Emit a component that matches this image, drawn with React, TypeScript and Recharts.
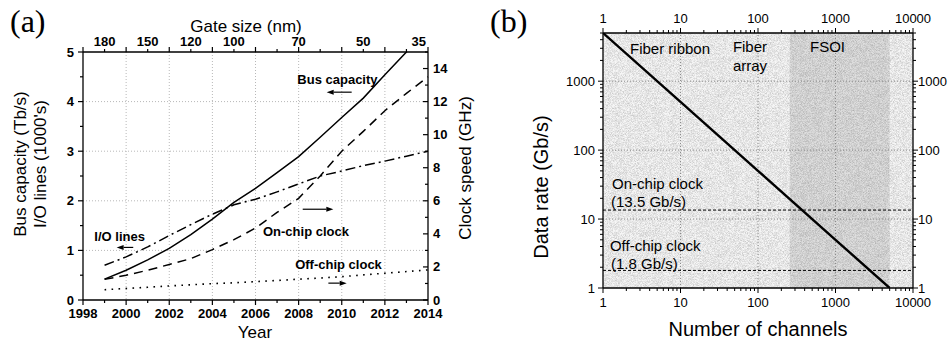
import React from "react";
import {
  ComposedChart,
  Line,
  XAxis,
  YAxis,
  CartesianGrid,
  ReferenceLine,
  ReferenceArea,
  ReferenceDot,
} from "recharts";

const SANS = '"Liberation Sans", Arial, Helvetica, sans-serif';
const SERIF = '"Liberation Serif", "Times New Roman", serif';

// ---- (a) roadmap trends ----
const YEARS = [1999, 2000, 2001, 2002, 2003, 2004, 2005, 2006, 2007, 2008, 2009, 2010, 2011, 2012, 2013, 2014];
const BUS_CAPACITY = [0.42, 0.6, 0.81, 1.04, 1.32, 1.63, 1.97, 2.25, 2.57, 2.89, 3.28, 3.68, 4.07, 4.54, 5.0, 5.45];
const IO_LINES = [0.7, 0.87, 1.07, 1.3, 1.52, 1.73, 1.92, 2.03, 2.18, 2.34, 2.5, 2.6, 2.71, 2.8, 2.9, 3.0];
const ON_CHIP_GHZ = [1.25, 1.5, 1.8, 2.15, 2.5, 3.05, 3.65, 4.35, 5.3, 6.15, 7.5, 9.0, 10.2, 11.45, 12.5, 13.5];
const OFF_CHIP_GHZ = [0.62, 0.7, 0.77, 0.85, 0.92, 0.99, 1.04, 1.11, 1.18, 1.26, 1.33, 1.41, 1.52, 1.62, 1.72, 1.82];

const GATE_YEARS = [1999, 2001, 2003, 2005, 2008, 2011, 2014];
const GATE_NM = [180, 150, 120, 100, 70, 50, 35];

const YEAR_TICKS = [1998, 1999, 2000, 2001, 2002, 2003, 2004, 2005, 2006, 2007, 2008, 2009, 2010, 2011, 2012, 2013, 2014];
const BUS_TICKS = [0, 0.5, 1, 1.5, 2, 2.5, 3, 3.5, 4, 4.5, 5];
const CLOCK_TICKS = [0, 1, 2, 3, 4, 5, 6, 7, 8, 9, 10, 11, 12, 13, 14, 15];

// ---- (b) data rate per channel ----
const CHANNELS = [1, 10, 100, 1000, 5000];
const DATA_RATE = [5000, 500, 50, 5, 1];
const ON_CHIP_RATE = 13.5;
const OFF_CHIP_RATE = 1.8;
const FSOI_RANGE = [257, 5000];
const X_DECADES = [1, 10, 100, 1000, 10000];
const Y_DECADES = [1, 10, 100, 1000];

const trendRows = YEARS.map((year, i) => ({
  year,
  bus: BUS_CAPACITY[i],
  io: IO_LINES[i],
  onChip: ON_CHIP_GHZ[i],
  offChip: OFF_CHIP_GHZ[i],
}));

const rateRows = CHANNELS.map((n, i) => ({ n, rate: DATA_RATE[i] }));

function logTicks(max: number) {
  const out: number[] = [];
  for (let d = 1; d <= max; d *= 10) {
    for (let m = 1; m <= 9; m++) if (m * d <= max) out.push(m * d);
  }
  return out;
}
const X_LOG_TICKS = logTicks(10000);
const Y_LOG_TICKS = logTicks(5000);

type TickProps = { x?: number; y?: number; payload?: { value: number } };

const tickText = (size: number, weight: number) => ({
  fontFamily: SANS,
  fontSize: size,
  fontWeight: weight,
  fill: "#000",
});

// ticks for chart (a)
const YearTick = ({ x = 0, y = 0, payload }: TickProps) => {
  const v = payload?.value ?? 0;
  const major = v % 2 === 0;
  return (
    <g>
      <line x1={x} x2={x} y1={y} y2={y + (major ? 5 : 3)} stroke="#000" strokeWidth={1.2} />
      {major && (
        <text x={x} y={y + 18} textAnchor="middle" {...tickText(13, 700)}>
          {v}
        </text>
      )}
    </g>
  );
};

const GateTick = ({ x = 0, y = 0, payload }: TickProps) => {
  const v = payload?.value ?? 0;
  const major = v % 2 === 0;
  const idx = GATE_YEARS.indexOf(v);
  const last = idx === GATE_YEARS.length - 1;
  return (
    <g>
      <line x1={x} x2={x} y1={y} y2={y - (major ? 5 : 3)} stroke="#000" strokeWidth={1.2} />
      {idx >= 0 && (
        <text x={last ? x - 2 : x} y={y - 6} textAnchor={last ? "end" : "middle"} {...tickText(13, 700)}>
          {GATE_NM[idx]}
        </text>
      )}
    </g>
  );
};

const BusTick = ({ x = 0, y = 0, payload }: TickProps) => {
  const v = payload?.value ?? 0;
  const major = Number.isInteger(v);
  return (
    <g>
      <line x1={x} x2={x - (major ? 5 : 3)} y1={y} y2={y} stroke="#000" strokeWidth={1.2} />
      {major && (
        <text x={x - 9} y={y} textAnchor="end" dominantBaseline="central" {...tickText(13, 700)}>
          {v}
        </text>
      )}
    </g>
  );
};

const ClockTick = ({ x = 0, y = 0, payload }: TickProps) => {
  const v = payload?.value ?? 0;
  const major = v % 2 === 0;
  return (
    <g>
      <line x1={x} x2={x - (major ? 5 : 3)} y1={y} y2={y} stroke="#000" strokeWidth={1.2} />
      {major && (
        <text x={x + 5} y={y} textAnchor="start" dominantBaseline="central" {...tickText(13, 700)}>
          {v}
        </text>
      )}
    </g>
  );
};

// ticks for chart (b), log axes with minor marks
const logTick =
  (side: "bottom" | "top" | "left" | "right", decades: number[]) =>
  ({ x = 0, y = 0, payload }: TickProps) => {
    const v = payload?.value ?? 0;
    const major = decades.includes(v);
    const len = major ? 5 : 3;
    const t = tickText(13, 400);
    let line;
    let label = null;
    if (side === "bottom") {
      line = <line x1={x} x2={x} y1={y} y2={y + len} stroke="#000" strokeWidth={1} />;
      if (major) label = <text x={x} y={y + 19} textAnchor="middle" {...t}>{v}</text>;
    } else if (side === "top") {
      line = <line x1={x} x2={x} y1={y} y2={y - len} stroke="#000" strokeWidth={1} />;
      if (major) label = <text x={x} y={y - 10} textAnchor="middle" {...t}>{v}</text>;
    } else if (side === "left") {
      line = <line x1={x} x2={x - len} y1={y} y2={y} stroke="#000" strokeWidth={1} />;
      if (major) label = <text x={x - 8} y={y} textAnchor="end" dominantBaseline="central" {...t}>{v}</text>;
    } else {
      line = <line x1={x} x2={x + len} y1={y} y2={y} stroke="#000" strokeWidth={1} />;
      if (major) label = <text x={x + 5} y={y} textAnchor="start" dominantBaseline="central" {...t}>{v}</text>;
    }
    return (
      <g>
        {line}
        {label}
      </g>
    );
  };

// annotation text anchored at a data point
const note =
  (text: string, size: number, weight: number, anchor: "start" | "middle" = "middle") =>
  (p: { cx?: number; cy?: number }) => (
    <text
      x={p.cx}
      y={p.cy}
      textAnchor={anchor}
      dominantBaseline="central"
      {...tickText(size, weight)}
    >
      {text}
    </text>
  );

// small arrow, head at the second segment point
const arrow = (p: { x1?: number; y1?: number; x2?: number; y2?: number }) => {
  const x1 = p.x1 ?? 0;
  const y1 = p.y1 ?? 0;
  const x2 = p.x2 ?? 0;
  const y2 = p.y2 ?? 0;
  const len = Math.hypot(x2 - x1, y2 - y1) || 1;
  const ux = (x2 - x1) / len;
  const uy = (y2 - y1) / len;
  const bx = x2 - ux * 7;
  const by = y2 - uy * 7;
  return (
    <g>
      <line x1={x1} y1={y1} x2={bx} y2={by} stroke="#000" strokeWidth={1.2} />
      <polygon
        points={`${x2},${y2} ${bx - uy * 2.5},${by + ux * 2.5} ${bx + uy * 2.5},${by - ux * 2.5}`}
        fill="#000"
      />
    </g>
  );
};

// shaded band with a fine printed grain
const grainyBand =
  (fill: string, id: string) =>
  (p: { x?: number; y?: number; width?: number; height?: number }) => (
    <g>
      <defs>
        <filter id={id} x="0" y="0" width="1" height="1">
          <feTurbulence type="fractalNoise" baseFrequency="1.6" numOctaves={1} seed={7} result="n" />
          <feColorMatrix
            in="n"
            type="matrix"
            values="0 0 0 0 0  0 0 0 0 0  0 0 0 0 0  0.45 0 0 0 -0.16"
            result="dots"
          />
          <feComposite in="dots" in2="SourceAlpha" operator="in" />
        </filter>
      </defs>
      <rect x={p.x} y={p.y} width={p.width} height={p.height} fill={fill} />
      <rect x={p.x} y={p.y} width={p.width} height={p.height} fill="#000" filter={`url(#${id})`} />
    </g>
  );

const Title = ({
  x,
  y,
  size,
  rotate = false,
  children,
}: {
  x: number;
  y: number;
  size: number;
  rotate?: boolean;
  children: React.ReactNode;
}) => (
  <div
    style={{
      position: "absolute",
      left: x,
      top: y,
      transform: `translate(-50%, -50%)${rotate ? " rotate(-90deg)" : ""}`,
      fontFamily: SANS,
      fontSize: size,
      lineHeight: 1,
      whiteSpace: "nowrap",
      color: "#000",
    }}
  >
    {children}
  </div>
);

const Panel = ({ x, children }: { x: number; children: React.ReactNode }) => (
  <div
    style={{
      position: "absolute",
      left: x,
      top: 5,
      fontFamily: SERIF,
      fontSize: 32,
      lineHeight: 1,
      color: "#000",
    }}
  >
    {children}
  </div>
);

const AXIS_LINE = { stroke: "#000", strokeWidth: 1.3 };

function TrendChart() {
  return (
    <ComposedChart width={480} height={341} data={trendRows} margin={{ top: 0, right: 0, bottom: 0, left: 0 }}>
      <CartesianGrid
        xAxisId="bottom"
        yAxisId="left"
        verticalValues={[2000, 2002, 2004, 2006, 2008, 2010, 2012]}
        horizontalValues={[1, 2, 3, 4]}
        stroke="#b8b8b8"
        strokeDasharray="1 2"
      />
      <XAxis
        xAxisId="bottom"
        dataKey="year"
        type="number"
        domain={[1998, 2014]}
        ticks={YEAR_TICKS}
        interval={0}
        height={41}
        tickLine={false}
        tickSize={0}
        tickMargin={0}
        axisLine={AXIS_LINE}
        tick={(p: TickProps) => <YearTick {...p} />}
      />
      <XAxis
        xAxisId="top"
        orientation="top"
        dataKey="year"
        type="number"
        domain={[1998, 2014]}
        ticks={YEAR_TICKS}
        interval={0}
        height={52}
        tickLine={false}
        tickSize={0}
        tickMargin={0}
        axisLine={AXIS_LINE}
        tick={(p: TickProps) => <GateTick {...p} />}
      />
      <YAxis
        yAxisId="left"
        type="number"
        domain={[0, 5]}
        allowDataOverflow
        ticks={BUS_TICKS}
        interval={0}
        width={83}
        tickLine={false}
        tickSize={0}
        tickMargin={0}
        axisLine={AXIS_LINE}
        tick={(p: TickProps) => <BusTick {...p} />}
      />
      <YAxis
        yAxisId="right"
        orientation="right"
        type="number"
        domain={[0, 15]}
        ticks={CLOCK_TICKS}
        interval={0}
        width={52}
        tickLine={false}
        tickSize={0}
        tickMargin={0}
        axisLine={AXIS_LINE}
        tick={(p: TickProps) => <ClockTick {...p} />}
      />

      <Line xAxisId="bottom" yAxisId="left" dataKey="bus" stroke="#000" strokeWidth={1.5} dot={false} isAnimationActive={false} />
      <Line xAxisId="bottom" yAxisId="left" dataKey="io" stroke="#000" strokeWidth={1.5} strokeDasharray="10 4 2 4" dot={false} isAnimationActive={false} />
      <Line xAxisId="bottom" yAxisId="right" dataKey="onChip" stroke="#000" strokeWidth={1.5} strokeDasharray="9 6" dot={false} isAnimationActive={false} />
      <Line xAxisId="bottom" yAxisId="right" dataKey="offChip" stroke="#000" strokeWidth={1.6} strokeDasharray="1.6 5.4" dot={false} isAnimationActive={false} />

      <ReferenceDot xAxisId="bottom" yAxisId="left" x={2009.8} y={4.44} r={0} shape={note("Bus capacity", 13, 700)} />
      <ReferenceLine xAxisId="bottom" yAxisId="left" segment={[{ x: 2010.46, y: 4.19 }, { x: 2009.3, y: 4.19 }]} shape={arrow} />
      <ReferenceDot xAxisId="bottom" yAxisId="left" x={1999.7} y={1.29} r={0} shape={note("I/O lines", 13, 700)} />
      <ReferenceLine xAxisId="bottom" yAxisId="left" segment={[{ x: 2000.33, y: 1.06 }, { x: 1999.56, y: 1.06 }]} shape={arrow} />
      <ReferenceDot xAxisId="bottom" yAxisId="left" x={2008.34} y={1.39} r={0} shape={note("On-chip clock", 13, 700)} />
      <ReferenceLine xAxisId="bottom" yAxisId="left" segment={[{ x: 2008.19, y: 1.83 }, { x: 2009.61, y: 1.83 }]} shape={arrow} />
      <ReferenceDot xAxisId="bottom" yAxisId="left" x={2009.85} y={0.71} r={0} shape={note("Off-chip clock", 13, 700)} />
      <ReferenceLine xAxisId="bottom" yAxisId="left" segment={[{ x: 2009.38, y: 0.34 }, { x: 2010.23, y: 0.34 }]} shape={arrow} />
    </ComposedChart>
  );
}

function RateChart() {
  const grid = { stroke: "#8c8c8c", strokeDasharray: "1 2", strokeWidth: 1 };
  return (
    <ComposedChart width={471} height={341} data={rateRows} margin={{ top: 0, right: 0, bottom: 0, left: 0 }}>
      <XAxis
        xAxisId="bottom"
        dataKey="n"
        type="number"
        scale="log"
        domain={[1, 10000]}
        allowDataOverflow
        ticks={X_LOG_TICKS}
        interval={0}
        height={53}
        tickLine={false}
        tickSize={0}
        tickMargin={0}
        axisLine={AXIS_LINE}
        tick={logTick("bottom", X_DECADES)}
      />
      <XAxis
        xAxisId="top"
        orientation="top"
        dataKey="n"
        type="number"
        scale="log"
        domain={[1, 10000]}
        allowDataOverflow
        ticks={X_LOG_TICKS}
        interval={0}
        height={33}
        tickLine={false}
        tickSize={0}
        tickMargin={0}
        axisLine={AXIS_LINE}
        tick={logTick("top", X_DECADES)}
      />
      <YAxis
        yAxisId="left"
        type="number"
        scale="log"
        domain={[1, 5000]}
        allowDataOverflow
        ticks={Y_LOG_TICKS}
        interval={0}
        width={123}
        tickLine={false}
        tickSize={0}
        tickMargin={0}
        axisLine={AXIS_LINE}
        tick={logTick("left", Y_DECADES)}
      />
      <YAxis
        yAxisId="right"
        orientation="right"
        type="number"
        scale="log"
        domain={[1, 5000]}
        allowDataOverflow
        ticks={Y_LOG_TICKS}
        interval={0}
        width={38}
        tickLine={false}
        tickSize={0}
        tickMargin={0}
        axisLine={AXIS_LINE}
        tick={logTick("right", Y_DECADES)}
      />

      {/* interconnect regions: fiber (light) and free-space optics (dark) */}
      <ReferenceArea xAxisId="bottom" yAxisId="left" x1={1} x2={10000} y1={1} y2={5000} shape={grainyBand("#f6f6f6", "grainLight")} />
      <ReferenceArea xAxisId="bottom" yAxisId="left" x1={FSOI_RANGE[0]} x2={FSOI_RANGE[1]} y1={1} y2={5000} shape={grainyBand("#dedede", "grainDark")} />

      {X_DECADES.slice(1, -1).map((v) => (
        <ReferenceLine key={`vx${v}`} xAxisId="bottom" yAxisId="left" x={v} {...grid} />
      ))}
      {Y_DECADES.slice(1).map((v) => (
        <ReferenceLine key={`hy${v}`} xAxisId="bottom" yAxisId="left" y={v} {...grid} />
      ))}

      <ReferenceLine xAxisId="bottom" yAxisId="left" y={ON_CHIP_RATE} stroke="#000" strokeWidth={1} strokeDasharray="3 2" />
      <ReferenceLine xAxisId="bottom" yAxisId="left" y={OFF_CHIP_RATE} stroke="#000" strokeWidth={1} strokeDasharray="3 2" />

      <Line xAxisId="bottom" yAxisId="left" dataKey="rate" stroke="#000" strokeWidth={2.4} dot={false} isAnimationActive={false} />

      <ReferenceDot xAxisId="bottom" yAxisId="left" x={7.32} y={3013} r={0} shape={note("Fiber ribbon", 15, 400)} />
      <ReferenceDot xAxisId="bottom" yAxisId="left" x={78.8} y={3221} r={0} shape={note("Fiber", 15, 400)} />
      <ReferenceDot xAxisId="bottom" yAxisId="left" x={78.8} y={1703} r={0} shape={note("array", 15, 400)} />
      <ReferenceDot xAxisId="bottom" yAxisId="left" x={788} y={3221} r={0} shape={note("FSOI", 15, 400)} />
      <ReferenceDot xAxisId="bottom" yAxisId="left" x={1.31} y={32.6} r={0} shape={note("On-chip clock", 15, 400, "start")} />
      <ReferenceDot xAxisId="bottom" yAxisId="left" x={1.27} y={17.9} r={0} shape={note(`(${ON_CHIP_RATE} Gb/s)`, 15, 400, "start")} />
      <ReferenceDot xAxisId="bottom" yAxisId="left" x={1.23} y={4.16} r={0} shape={note("Off-chip clock", 15, 400, "start")} />
      <ReferenceDot xAxisId="bottom" yAxisId="left" x={1.27} y={2.3} r={0} shape={note(`(${OFF_CHIP_RATE} Gb/s)`, 15, 400, "start")} />
    </ComposedChart>
  );
}

export default function App() {
  return (
    <div
      style={{
        position: "absolute",
        left: 0,
        top: 0,
        width: 951,
        height: 341,
        background: "#fff",
        overflow: "hidden",
      }}
    >
      <div style={{ position: "absolute", left: 0, top: 0 }}>
        <TrendChart />
      </div>
      <div style={{ position: "absolute", left: 480, top: 0 }}>
        <RateChart />
      </div>

      <Panel x={10}>(a)</Panel>
      <Title x={246} y={26} size={17}>Gate size (nm)</Title>
      <Title x={255} y={332} size={17}>Year</Title>
      <Title x={20} y={164} size={17} rotate>Bus capacity (Tb/s)</Title>
      <Title x={40} y={164} size={17} rotate>I/O lines (1000's)</Title>
      <Title x={465} y={168} size={17} rotate>Clock speed (GHz)</Title>

      <Panel x={490}>(b)</Panel>
      <Title x={541} y={187} size={20} rotate>Data rate (Gb/s)</Title>
      <Title x={758} y={329} size={20}>Number of channels</Title>
    </div>
  );
}
